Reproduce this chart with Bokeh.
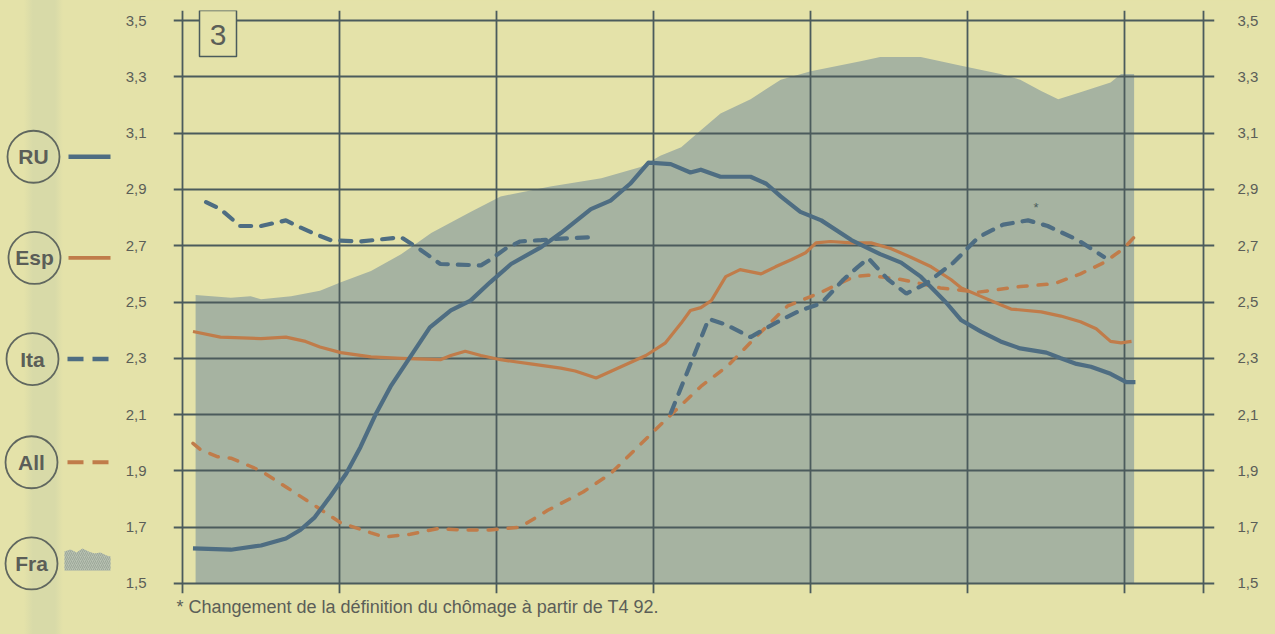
import math
from bokeh.plotting import figure
from bokeh.layouts import row
from bokeh.models import Range1d, LinearAxis, FixedTicker, Grid, Title, GlobalInlineStyleSheet
from bokeh.core.properties import value
from bokeh.embed import file_html
from bokeh.resources import INLINE

# ---------------- data (x = months since start of the first year) ----------------
fra_m = [1.0, 3.7, 5.2, 6.0, 8.3, 10.5, 12.1, 14.4, 16.7, 19.0, 22.0, 24.3, 28.1, 32.0, 35.0, 36.5,
         38.1, 39.6, 41.1, 43.4, 45.7, 48.0, 51.8, 53.3, 56.4, 59.4, 62.5, 64.0, 65.6, 66.9, 68.6,
         70.9, 71.7, 72.7]
fra_v = [2.525, 2.515, 2.52, 2.51, 2.52, 2.54, 2.57, 2.61, 2.67, 2.745, 2.82, 2.875, 2.91, 2.94,
         2.98, 3.02, 3.05, 3.11, 3.17, 3.22, 3.29, 3.32, 3.355, 3.37, 3.37, 3.34, 3.31, 3.29, 3.25,
         3.22, 3.245, 3.28, 3.31, 3.31]

ru_m = [0.8, 3.7, 6.0, 7.9, 9.0, 10.1, 11.3, 12.5, 13.6, 14.8, 15.9, 17.4, 18.9, 20.5, 22.0, 23.5,
        25.1, 27.4, 28.9, 31.2, 32.7, 34.2, 35.6, 37.3, 38.8, 39.6, 41.1, 43.4, 44.6, 45.7, 47.2,
        48.8, 51.1, 53.3, 54.9, 56.4, 58.3, 59.5, 61.0, 62.5, 64.0, 66.0, 67.1, 68.3, 69.4, 70.9,
        72.1, 72.8]
ru_v = [1.625, 1.62, 1.635, 1.66, 1.69, 1.735, 1.81, 1.89, 1.985, 2.105, 2.20, 2.305, 2.41, 2.47,
        2.505, 2.57, 2.635, 2.695, 2.745, 2.83, 2.86, 2.92, 2.995, 2.99, 2.96, 2.97, 2.945, 2.945,
        2.92, 2.875, 2.82, 2.79, 2.72, 2.67, 2.64, 2.59, 2.50, 2.435, 2.395, 2.36, 2.335, 2.32,
        2.30, 2.28, 2.27, 2.245, 2.215, 2.215]

esp_m = [0.8, 2.9, 6.0, 7.9, 9.4, 10.5, 12.1, 14.4, 16.7, 19.7, 20.5, 21.6, 22.8, 24.3, 26.6, 28.9,
         30.0, 31.6, 33.5, 35.4, 36.9, 38.1, 38.8, 39.6, 40.4, 41.5, 42.6, 44.2, 45.3, 46.5, 47.6,
         48.4, 49.5, 51.1, 52.6, 54.1, 55.6, 57.2, 58.7, 59.5, 61.0, 62.5, 63.3, 65.6, 67.1, 68.6,
         69.8, 70.9, 71.7, 72.5]
esp_v = [2.395, 2.375, 2.37, 2.375, 2.36, 2.34, 2.32, 2.305, 2.30, 2.295, 2.31, 2.325, 2.31, 2.295,
         2.28, 2.265, 2.255, 2.23, 2.27, 2.31, 2.355, 2.425, 2.47, 2.48, 2.505, 2.59, 2.615, 2.60,
         2.625, 2.65, 2.675, 2.71, 2.715, 2.71, 2.71, 2.69, 2.66, 2.625, 2.58, 2.55, 2.52, 2.49,
         2.475, 2.465, 2.45, 2.43, 2.405, 2.36, 2.355, 2.36]

ita1_m = [1.8, 2.9, 4.4, 6.0, 7.9, 9.0, 10.2, 11.3, 13.6, 16.7, 18.2, 19.7, 22.8, 23.5, 24.7, 25.8,
          27.4, 28.9, 31.3]
ita1_v = [2.855, 2.83, 2.77, 2.77, 2.79, 2.765, 2.74, 2.72, 2.715, 2.73, 2.685, 2.635, 2.63, 2.65,
          2.69, 2.715, 2.72, 2.725, 2.73]
ita2_m = [37.3, 40.2, 41.5, 43.4, 44.7, 46.1, 47.2, 48.8, 50.5, 51.6, 52.4, 53.9, 55.3, 56.8, 58.9,
          60.8, 62.7, 64.6, 66.1, 68.4, 70.4]
ita2_v = [2.105, 2.44, 2.42, 2.375, 2.41, 2.445, 2.47, 2.495, 2.58, 2.625, 2.655, 2.58, 2.53, 2.565,
          2.64, 2.73, 2.775, 2.79, 2.77, 2.72, 2.66]

all_m = [0.8, 1.4, 2.7, 3.7, 5.0, 6.0, 8.0, 10.0, 12.1, 14.4, 15.4, 17.4, 19.5, 21.5, 23.5, 25.8,
         27.9, 30.6, 32.7, 35.0, 37.1, 39.6, 41.7, 43.9, 46.2, 48.8, 51.3, 52.4, 54.9, 57.9, 60.8,
         64.0, 66.6, 68.6, 70.4, 71.9, 73.1]
all_v = [1.998, 1.975, 1.95, 1.945, 1.92, 1.90, 1.84, 1.78, 1.715, 1.68, 1.665, 1.675, 1.695, 1.69,
         1.69, 1.70, 1.76, 1.825, 1.89, 1.995, 2.09, 2.20, 2.275, 2.38, 2.485, 2.535, 2.59, 2.595,
         2.58, 2.55, 2.535, 2.555, 2.565, 2.60, 2.64, 2.69, 2.75]

asterisk_m, asterisk_v = 65.2, 2.835

x_ticks = [0, 12, 24, 36, 48, 60, 72, 78]
y_ticks = [1.5, 1.7, 1.9, 2.1, 2.3, 2.5, 2.7, 2.9, 3.1, 3.3, 3.5]
y_tick_labels = ["1,5", "1,7", "1,9", "2,1", "2,3", "2,5", "2,7", "2,9", "3,1", "3,3", "3,5"]
legend_labels = ["RU", "Esp", "Ita", "All", "Fra"]
panel_number = "3"
footnote = "* Changement de la définition du chômage à partir de T4 92."

# ---------------- style ----------------
PAPER = "#e4e2a9"
BAND = "#d8daa8"
AREA = "#a6b3a1"
GRID = "#4b5b5c"
BLUE = "#4e6d82"
ORANGE = "#c07c4a"
TEXT = "#5b5e58"
FONT = "Liberation Sans"
PXY = 281.0            # pixels per y unit
PXM = 1021.0 / 78.0    # pixels per month
Y_LO, Y_HI = 1.5 - 10 / PXY, 3.5 + 10 / PXY   # gridlines overshoot the data box like ticks
X_LO, X_HI = -9 / PXM, 78 + 11 / PXM


def row_y(py):
    return 1.5 + (583 - py) / PXY


def col_x(px):
    return (px - 182) / PXM


# ---------------- main chart ----------------
p = figure(width=1157, height=634, x_range=Range1d(X_LO, X_HI), y_range=Range1d(Y_LO, Y_HI),
           output_backend="svg", toolbar_location=None,
           x_axis_location=None, y_axis_location=None,
           min_border_left=55, min_border_right=61, min_border_top=10, min_border_bottom=41,
           background_fill_color=PAPER, border_fill_color=PAPER, outline_line_color=None)
p.grid.visible = False

p.varea(x=fra_m, y1=[1.5] * len(fra_m), y2=fra_v, fill_color=AREA, level="image")

p.add_layout(Grid(dimension=0, ticker=FixedTicker(ticks=x_ticks), grid_line_color=GRID,
                  grid_line_width=1.8))
p.add_layout(Grid(dimension=1, ticker=FixedTicker(ticks=y_ticks), grid_line_color=GRID,
                  grid_line_width=1.8))

ylab = {t: l for t, l in zip(y_ticks, y_tick_labels)}
for side, stand in (("left", 27), ("right", 23)):
    ax = LinearAxis(ticker=FixedTicker(ticks=y_ticks), major_label_overrides=ylab,
                    axis_line_color=None, major_tick_line_color=None, minor_tick_line_color=None,
                    major_tick_out=0, major_tick_in=0, major_label_standoff=stand,
                    major_label_text_font=FONT, major_label_text_font_size="15px",
                    major_label_text_color=TEXT)
    p.add_layout(ax, side)

ita_m = ita1_m + [math.nan] + ita2_m
ita_v = ita1_v + [math.nan] + ita2_v

p.line(all_m, all_v, line_color=ORANGE, line_width=3.5, line_dash="9 11", line_cap="round")
p.line(esp_m, esp_v, line_color=ORANGE, line_width=3.2, line_join="round")
p.line(ita_m, ita_v, line_color=BLUE, line_width=4.2, line_dash="11 10", line_cap="round")
p.line(ru_m, ru_v, line_color=BLUE, line_width=4.2, line_join="round")

p.text(x=[asterisk_m], y=[asterisk_v], text=["*"], text_align="center", text_baseline="middle",
       text_font=value(FONT), text_font_size="13px", text_color=GRID)

# panel number box "3"
p.quad(left=[col_x(199)], right=[col_x(236)], top=[row_y(11)], bottom=[row_y(57)],
       fill_color=PAPER, line_color=GRID, line_width=1.5)
p.text(x=[col_x(217.5)], y=[row_y(35)], text=[panel_number], text_align="center",
       text_baseline="middle", text_font=value(FONT), text_font_size="30px", text_color=TEXT)

p.add_layout(Title(text=footnote, align="left", offset=3, standoff=3, text_font=FONT,
                   text_font_size="18px", text_font_style="normal", text_color=TEXT), "below")

# ---------------- legend panel (x in page pixels, y on the same scale as the chart) ----------------
lf = figure(width=118, height=634, x_range=Range1d(0, 118), y_range=Range1d(Y_LO, Y_HI),
            output_backend="svg", toolbar_location=None,
            min_border_left=0, min_border_right=0, min_border_top=10, min_border_bottom=41,
            x_axis_location=None, y_axis_location=None,
            background_fill_color=None, border_fill_color=None, outline_line_color=None)
lf.grid.visible = False

legend_rows = [157, 258, 359, 462, 563]
legend_cols = [33, 34, 32, 31, 31]
ly = [row_y(r) for r in legend_rows]
lf.scatter(x=legend_cols, y=ly, size=52, marker="circle", fill_color=None,
           line_color="#60675f", line_width=1.8)
lf.text(x=legend_cols, y=ly, text=legend_labels, text_align="center", text_baseline="middle",
        text_font=value(FONT), text_font_size="21px", text_font_style="bold", text_color=TEXT)

lf.line([68, 110], [ly[0]] * 2, line_color=BLUE, line_width=4.5)
lf.line([68, 110], [ly[1]] * 2, line_color=ORANGE, line_width=3.8)
lf.line([67, 108], [ly[2]] * 2, line_color=BLUE, line_width=4.5, line_dash="16 9")
lf.line([67, 108], [ly[3]] * 2, line_color=ORANGE, line_width=4.2, line_dash="16 9")

sw_x = [64, 64, 70, 76, 82, 88, 94, 100, 106, 110, 110]
sw_top = [570, 551, 549, 552, 548, 551, 553, 552, 555, 556, 570]
lf.patch(sw_x, [row_y(t) for t in sw_top], fill_color="#b7c0b1", line_color=None,
         hatch_pattern="/", hatch_color="#95a293", hatch_scale=4, hatch_weight=0.8)

page_css = GlobalInlineStyleSheet(css="html, body { background-color: %s; overflow: hidden; }" % PAPER)
band = ("linear-gradient(to right, {p} 24px, {b} 33px, {b} 55px, {p} 63px, {p} 100%)"
        .format(p=PAPER, b=BAND))
layout = row(lf, p, stylesheets=[page_css], styles={"background": band})
open("out.html", "w").write(file_html(layout, INLINE))
